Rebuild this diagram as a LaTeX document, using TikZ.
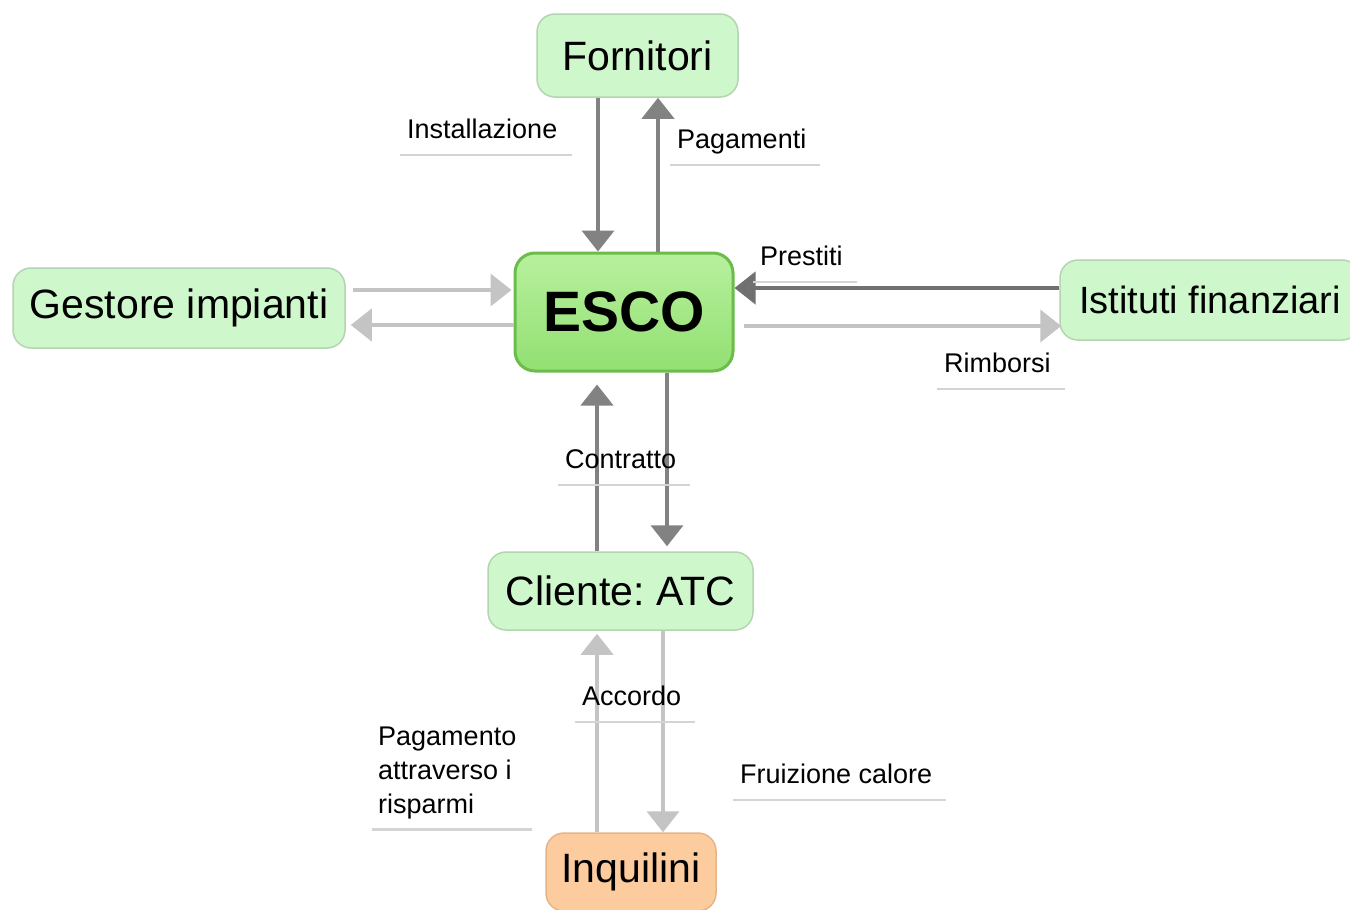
\documentclass[tikz,border=0pt]{standalone}
\usepackage{fontspec}
\setmainfont{Liberation Sans}
\usetikzlibrary{arrows.meta}
\frenchspacing
\definecolor{boxfill}{RGB}{207,247,204}
\definecolor{boxline}{RGB}{180,212,178}
\definecolor{escotop}{RGB}{184,240,158}
\definecolor{escobot}{RGB}{146,224,114}
\definecolor{escoline}{RGB}{108,188,76}
\definecolor{orfill}{RGB}{253,204,158}
\definecolor{orline}{RGB}{230,180,134}
\definecolor{darkarr}{RGB}{130,130,130}
\definecolor{darkerarr}{RGB}{112,112,112}
\definecolor{lightarr}{RGB}{196,196,196}
\definecolor{ulcol}{RGB}{212,212,212}
\tikzset{
  entity/.style={draw=boxline, fill=boxfill, line width=1.5pt, rounded corners=18pt,
    font=\fontsize{41}{48}\selectfont, inner sep=0pt},
  escobox/.style={draw=escoline, top color=escotop, bottom color=escobot, line width=3pt,
    rounded corners=20pt, font=\bfseries\fontsize{57}{64}\selectfont, inner sep=0pt},
  tenant/.style={entity, draw=orline, fill=orfill},
  flowtip/.style={-{Triangle[length=21pt,width=32pt]}},
  darkflow/.style={flowtip, draw=darkarr, fill=darkarr, line width=4pt},
  darkerflow/.style={flowtip, draw=darkerarr, fill=darkerarr, line width=4pt},
  lightflow/.style={flowtip, draw=lightarr, fill=lightarr, line width=4pt},
  flowlabel/.style={font=\fontsize{27}{34}\selectfont, inner sep=0pt, anchor=base west},
  uline/.style={draw=ulcol, line width=2.5pt},
}
\begin{document}
\begin{tikzpicture}[x=1pt,y=-1pt]
\useasboundingbox (0,0) rectangle (1350,910);
\fill[white] (0,0) rectangle (1350,910);

% entities
\node[entity, minimum width=201pt, minimum height=83pt] (forn) at (637.5,55.5) {Fornitori};
\node[escobox, minimum width=218pt, minimum height=118pt] (esco) at (624,312) {ESCO};
\node[entity, minimum width=332pt, minimum height=80pt] (gest) at (179,308) {Gestore impianti};
\node[entity, minimum width=300pt, minimum height=80pt, font=\fontsize{38}{46}\selectfont] (isti) at (1210,300) {Istituti finanziari};
\node[entity, minimum width=265pt, minimum height=78pt] (cli) at (620.5,591) {Cliente: ATC};
\node[tenant, minimum width=170pt, minimum height=78pt] (inq) at (631,872) {Inquilini};

% guide coordinates for the flow lines
\coordinate (xInst) at (598,0);
\coordinate (xPag) at (658,0);
\coordinate (yGin) at (0,290);
\coordinate (yGout) at (0,325);
\coordinate (yPre) at (0,288);
\coordinate (yRim) at (0,326);
\coordinate (xCon) at (597,0);
\coordinate (xDown) at (667,0);
\coordinate (xAcc) at (597,0);
\coordinate (xFru) at (663,0);

% flows
\draw[darkflow] (xInst |- forn.south) -- (xInst |- esco.north);
\draw[darkflow] (xPag |- esco.north) -- (xPag |- forn.south);
\draw[lightflow, shorten <=7pt, shorten >=2pt] (gest.east |- yGin) -- (esco.west |- yGin);
\draw[lightflow, shorten >=5pt] (esco.west |- yGout) -- (gest.east |- yGout);
\draw[darkerflow] (isti.west |- yPre) -- (esco.east |- yPre);
\draw[lightflow, shorten <=9pt, shorten >=-2pt] (esco.east |- yRim) -- (isti.west |- yRim);
\draw[darkflow, shorten >=12pt] (xCon |- cli.north) -- (xCon |- esco.south);
\draw[darkflow, shorten >=5pt] (xDown |- esco.south) -- (xDown |- cli.north);
\draw[lightflow, shorten >=3pt] (xAcc |- inq.north) -- (xAcc |- cli.south);
\draw[lightflow] (xFru |- cli.south) -- (xFru |- inq.north);

% labels
\node[flowlabel] (lInst) at (407,138) {Installazione};
\node[flowlabel] (lPag) at (677,148) {Pagamenti};
\node[flowlabel] (lPre) at (760,265) {Prestiti};
\node[flowlabel] (lRim) at (944,372) {Rimborsi};
\node[flowlabel] (lCon) at (565,468) {Contratto};
\node[flowlabel] (lAcc) at (582,705) {Accordo};
\node[flowlabel] (lFru) at (740,783) {Fruizione calore};
\node[flowlabel, anchor=north west, align=left] (lRis) at (378,727) {Pagamento\\attraverso i\\risparmi};

\foreach \n in {lInst,lPag,lPre,lRim,lCon,lAcc,lFru}
  \draw[uline] ([xshift=-7pt,yshift=-17pt]\n.base west) -- ([xshift=14pt,yshift=-17pt]\n.base east);
\draw[uline] ([xshift=-6pt,yshift=-10pt]lRis.south west) -- ([xshift=15pt,yshift=-10pt]lRis.south east);
\end{tikzpicture}
\end{document}
